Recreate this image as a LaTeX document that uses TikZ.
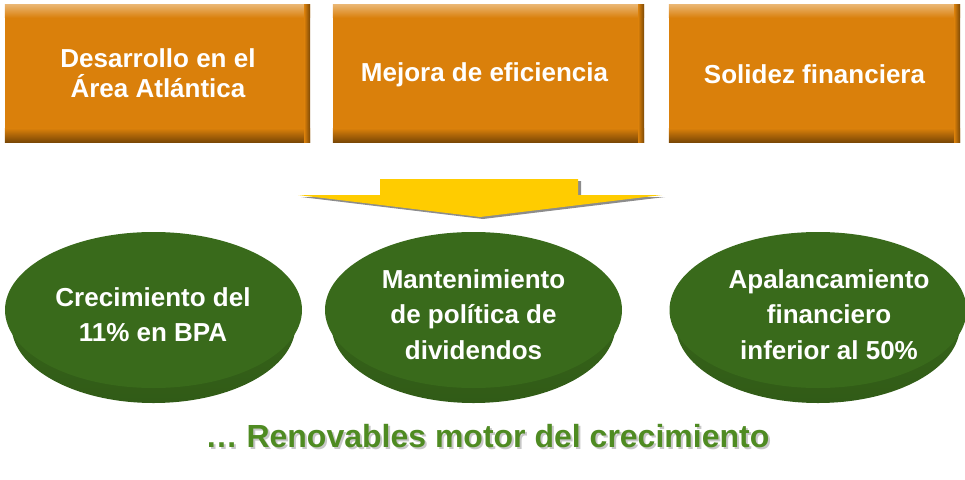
\documentclass[tikz,border=0pt]{standalone}
\usepackage{fontspec}
\setmainfont{Liberation Sans}
\usetikzlibrary{shapes.geometric,calc}
\definecolor{boxmain}{HTML}{DA800B}
\definecolor{boxlight}{HTML}{E9B46F}
\definecolor{boxdark}{HTML}{7A4705}
\definecolor{arrowyellow}{HTML}{FFCC00}
\definecolor{shadowgray}{HTML}{8C8C8C}
\definecolor{face}{HTML}{396A1B}
\definecolor{rimbot}{HTML}{315B17}
\definecolor{slogan}{HTML}{4F8B22}
\newcommand\bandshade[1]{%
  \shade[top color=boxlight, bottom color=boxmain] (#1.north west) rectangle ([yshift=-13pt]#1.north east);
  \shade[top color=boxmain, bottom color=boxdark] ([yshift=14pt]#1.south west) rectangle (#1.south east);
  \shade[left color=boxmain, right color=boxdark] ([xshift=-6pt]#1.north east) rectangle (#1.south east);
}
\begin{document}
\begin{tikzpicture}[x=1pt,y=-1pt,
  topbox/.style={fill=boxmain, inner sep=0pt, minimum height=137pt, text=white, align=center, font=\fontsize{26}{30}\selectfont\bfseries},
  disc/.style={ellipse, fill=face, inner sep=0pt, minimum width=297pt, minimum height=156pt},
  disctext/.style={text=white, align=center, font=\fontsize{26}{35.5}\selectfont\bfseries},
  slogantext/.style={inner sep=0pt, font=\fontsize{32}{36}\selectfont\bfseries},
]
\useasboundingbox (0,0) rectangle (965,479);

% top boxes
\node[topbox, minimum width=305pt] (b1) at (157.5,73.5) {};
\node[topbox, minimum width=311pt] (b2) at (488.5,73.5) {};
\node[topbox, minimum width=291pt] (b3) at (814.5,73.5) {};
\bandshade{b1}
\bandshade{b2}
\bandshade{b3}
\node[topbox, fill=none, minimum height=0pt] (l1) at (158,73.5) {Desarrollo en el\\Área Atlántica};
\node[topbox, fill=none, minimum height=0pt] (l2) at (484.5,74.5) {Mejora de eficiencia};
\node[topbox, fill=none, minimum height=0pt] (l3) at (814.5,74.5) {Solidez financiera};

% arrow
\begin{scope}[shift={(3,2)}]
  \fill[shadowgray] (380,179) -- (578,179) -- (578,195) -- (662,195) -- (480,217) -- (298,195) -- (380,195) -- cycle;
\end{scope}
\fill[arrowyellow] (380,179) -- (578,179) -- (578,195) -- (662,195) -- (480,217) -- (298,195) -- (380,195) -- cycle;

% discs
\shade[top color=face, middle color=face, bottom color=rimbot] (153.5,325) ellipse [x radius=142pt, y radius=78pt];
\shade[top color=face, middle color=face, bottom color=rimbot] (473.5,325) ellipse [x radius=142pt, y radius=78pt];
\shade[top color=face, middle color=face, bottom color=rimbot] (818,325) ellipse [x radius=142pt, y radius=78pt];
\node[disc] (e1) at (153.5,310) {};
\node[disc] (e2) at (473.5,310) {};
\node[disc] (e3) at (818,310) {};
\node[disctext] (t1) at (153,314.5) {Crecimiento del\\11\% en BPA};
\node[disctext] (t2) at (473.5,314.5) {Mantenimiento\\de política de\\dividendos};
\node[disctext] (t3) at (829,314.5) {Apalancamiento\\financiero\\inferior al 50\%};

% slogan
\node[slogantext, text=black!22, anchor=base] (s0) at (489.5,449) {… Renovables motor del crecimiento};
\node[slogantext, text=slogan, anchor=base] (s1) at (487.5,447) {… Renovables motor del crecimiento};
\end{tikzpicture}
\end{document}
